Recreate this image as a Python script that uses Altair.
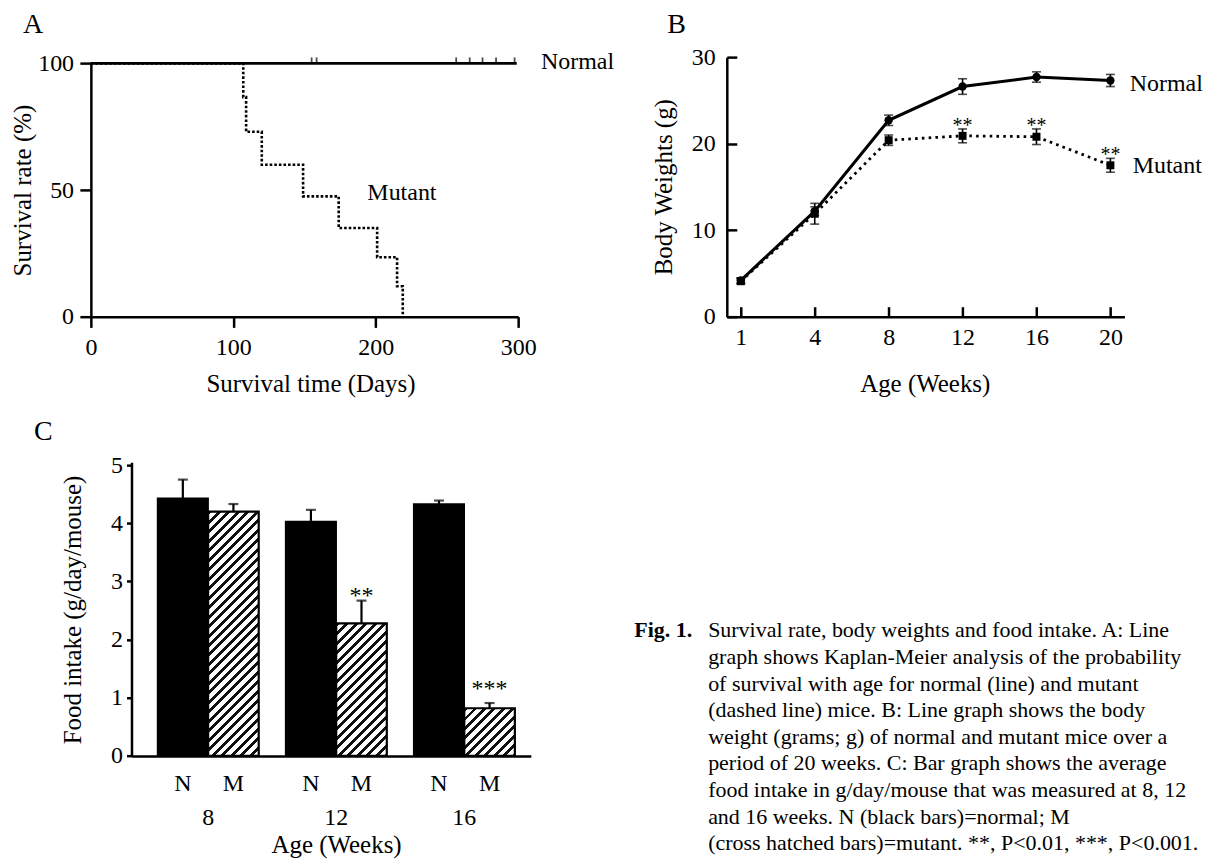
import altair as alt
import pandas as pd

FONT = "Liberation Serif"

# ---------------- data ----------------
# Panel A: Kaplan-Meier survival (days, %)
a_normal_days = [0, 299]
a_normal_surv = [100, 100]
a_censor_days = [155, 158.5, 256.5, 266, 275, 284.5, 297.5]
a_mutant_days = [0, 107, 109, 120, 149, 174, 201, 215, 219]
a_mutant_surv = [100, 86.7, 73, 60, 47.5, 35, 23.5, 12, 0]
a_x_ticks = [0, 100, 200, 300]
a_y_ticks = [0, 50, 100]

# Panel B: body weights (g)
b_weeks = ["1", "4", "8", "12", "16", "20"]
b_normal = [4.2, 12.2, 22.7, 26.6, 27.7, 27.3]
b_normal_err = [0.3, 0.5, 0.6, 0.9, 0.6, 0.7]
b_mutant = [4.1, 11.9, 20.4, 20.9, 20.8, 17.5]
b_mutant_err = [0.3, 1.2, 0.6, 0.8, 0.9, 0.8]
b_mutant_sig = ["", "", "", "**", "**", "**"]
b_y_ticks = [0, 10, 20, 30]

# Panel C: food intake (g/day/mouse)
c_weeks = ["8", "12", "16"]
c_groups = ["N", "M"]
c_normal = [4.43, 4.03, 4.33]
c_normal_err = [0.32, 0.20, 0.06]
c_mutant = [4.20, 2.28, 0.82]
c_mutant_err = [0.13, 0.39, 0.09]
c_mutant_sig = ["", "**", "***"]
c_y_ticks = [0, 1, 2, 3, 4, 5]

caption_lines = [
    "Survival rate, body weights and food intake. A: Line",
    "graph shows Kaplan-Meier analysis of the probability",
    "of survival with age for normal (line) and mutant",
    "(dashed line) mice. B: Line graph shows the body",
    "weight (grams; g) of normal and mutant mice over a",
    "period of 20 weeks. C: Bar graph shows the average",
    "food intake in g/day/mouse that was measured at 8, 12",
    "and 16 weeks. N (black bars)=normal; M",
    "(cross hatched bars)=mutant. **, P<0.01, ***, P<0.001.",
]

# ---------------- layout sizes ----------------
A_W, A_H = 428, 260
B_W, B_H = 398.3, 260
C_LEFT = 40.7
C_W, C_H = 440.7, 294.3
C_YMAX = 5.05
CAP_W = 460
COL_SPACING = 196.0
ROW_SPACING = 145.7
CAP_SHIFT = -92.7   # caption starts left of its cell (second column)


def axis(**kw):
    base = dict(grid=False, domainColor="black", domainWidth=2.5, tickColor="black",
                tickWidth=2.5, labelFont=FONT, labelFontSize=24, labelColor="black",
                titleFont=FONT, titleFontSize=25, titleFontWeight="normal",
                titleColor="black", labelAngle=0, labelFlush=False, labelOverlap=False)
    base.update(kw)
    return alt.Axis(**base)


def txt(**kw):
    base = dict(font=FONT, color="black", fontSize=24)
    base.update(kw)
    return base


# ---------------- Panel A ----------------
df_an = pd.DataFrame({"day": a_normal_days, "surv": a_normal_surv})
df_am = pd.DataFrame({"day": a_mutant_days, "surv": a_mutant_surv})
df_ac = pd.DataFrame({"day": a_censor_days, "surv": [a_normal_surv[0]] * len(a_censor_days)})

ax_x = alt.X("day:Q", scale=alt.Scale(domain=[0, 300], range=[0, A_W], nice=False, zero=False),
             axis=axis(values=a_x_ticks, tickSize=10.7, labelPadding=27.6, labelBaseline="alphabetic",
                       title="Survival time (Days)", titleX=220, titleY=75,
                       titleBaseline="alphabetic"))
ax_y = alt.Y("surv:Q", scale=alt.Scale(domain=[0, 100], range=[A_H, 6.3], nice=False),
             axis=axis(values=a_y_ticks, tickSize=11, labelPadding=6.3,
                       title="Survival rate (%)", titleX=-60, titleY=133.2,
                       titleBaseline="alphabetic"))

a_mut = alt.Chart(df_am).mark_line(interpolate="step-after", color="black", strokeWidth=2.6,
                                   strokeDash=[2.6, 2]).encode(x=ax_x, y=ax_y)
a_norm = alt.Chart(df_an).mark_line(color="black", strokeWidth=2.8).encode(x=ax_x, y=ax_y)
a_cens = alt.Chart(df_ac).mark_tick(orient="vertical", size=6, thickness=1.8, color="black",
                                    yOffset=-3).encode(x=ax_x, y=ax_y)
a_lab_n = alt.Chart(df_an.tail(1).assign(t="Normal")).mark_text(
    **txt(align="left", baseline="alphabetic", dx=24.3, dy=5.3)).encode(x=ax_x, y=ax_y, text="t")
a_lab_m = alt.Chart(df_am.iloc[[4]].assign(t="Mutant")).mark_text(
    **txt(align="left", baseline="alphabetic", dx=64.4, dy=3.8)).encode(x=ax_x, y=ax_y, text="t")
a_letter = alt.Chart(pd.DataFrame({"t": ["A"]})).mark_text(
    **txt(align="left", baseline="alphabetic", fontSize=28)).encode(
    x=alt.value(-68), y=alt.value(-23.7), text="t")

panelA = alt.layer(a_mut, a_norm, a_cens, a_lab_n, a_lab_m, a_letter).properties(width=A_W, height=A_H)

# ---------------- Panel B ----------------
df_b = pd.DataFrame({
    "week": b_weeks * 2,
    "grp": ["Normal"] * len(b_weeks) + ["Mutant"] * len(b_weeks),
    "value": b_normal + b_mutant,
    "err": b_normal_err + b_mutant_err,
    "sig": [""] * len(b_weeks) + b_mutant_sig,
})
base_b = alt.Chart(df_b).transform_calculate(lo="datum.value - datum.err", hi="datum.value + datum.err")

b_yaxis = axis(values=b_y_ticks, tickSize=alt.ExprRef(expr="-10"), labelPadding=21.7,
               title="Body Weights (g)", titleX=-55.7, titleY=129.8, titleBaseline="alphabetic")
b_yscale = alt.Scale(domain=[0, 30], nice=False)
bx = alt.X("week:O", sort=b_weeks, scale=alt.Scale(type="point", padding=0.19),
           axis=axis(tickSize=alt.ExprRef(expr="-10"), labelPadding=38, labelBaseline="alphabetic",
                     title="Age (Weeks)", titleX=198.3, titleY=75, titleBaseline="alphabetic"))
by = alt.Y("value:Q", scale=b_yscale, axis=b_yaxis)
by_lo = alt.Y("lo:Q", scale=b_yscale, axis=b_yaxis)
by_hi = alt.Y("hi:Q", scale=b_yscale, axis=b_yaxis)

isN = "datum.grp == 'Normal'"
isM = "datum.grp == 'Mutant'"
b_mut_line = base_b.transform_filter(isM).mark_line(color="black", strokeWidth=2.8,
                                                    strokeDash=[2.6, 4.2]).encode(x=bx, y=by)
b_norm_line = base_b.transform_filter(isN).mark_line(color="black", strokeWidth=3).encode(x=bx, y=by)
b_err = base_b.mark_rule(color="black", strokeWidth=1.6).encode(x=bx, y=by_lo, y2="hi:Q")
b_cap_lo = base_b.mark_tick(orient="horizontal", size=9, thickness=1.6, color="black").encode(x=bx, y=by_lo)
b_cap_hi = base_b.mark_tick(orient="horizontal", size=9, thickness=1.6, color="black").encode(x=bx, y=by_hi)
b_pts_n = base_b.transform_filter(isN).mark_point(shape="circle", filled=True, size=70, color="black",
                                                  opacity=1).encode(x=bx, y=by)
b_pts_m = base_b.transform_filter(isM).mark_point(shape="square", filled=True, size=64, color="black",
                                                  opacity=1).encode(x=bx, y=by)
b_sig = base_b.transform_filter("datum.sig != ''").mark_text(
    **txt(baseline="alphabetic", fontSize=20, dy=3)).encode(x=bx, y=by_hi, text="sig:N")
last_w = b_weeks[-1]
b_lab_n = base_b.transform_filter(f"{isN} && datum.week == '{last_w}'").mark_text(
    **txt(align="left", baseline="alphabetic", dx=19.3, dy=10.6)).encode(x=bx, y=by, text="grp:N")
b_lab_m = base_b.transform_filter(f"{isM} && datum.week == '{last_w}'").mark_text(
    **txt(align="left", baseline="alphabetic", dx=22.3, dy=7.4)).encode(x=bx, y=by, text="grp:N")
b_letter = alt.Chart(pd.DataFrame({"t": ["B"]})).mark_text(
    **txt(align="left", baseline="alphabetic", fontSize=28)).encode(
    x=alt.value(-59.7), y=alt.value(-23.7), text="t")

panelB = alt.layer(b_mut_line, b_norm_line, b_err, b_cap_lo, b_cap_hi, b_pts_n, b_pts_m,
                   b_sig, b_lab_n, b_lab_m, b_letter).properties(width=B_W, height=B_H)

# ---------------- Panel C ----------------
df_c = pd.DataFrame({
    "week": c_weeks * 2,
    "grp": ["N"] * len(c_weeks) + ["M"] * len(c_weeks),
    "value": c_normal + c_mutant,
    "err": c_normal_err + c_mutant_err,
    "sig": [""] * len(c_weeks) + c_mutant_sig,
})
base_c = alt.Chart(df_c).transform_calculate(hi="datum.value + datum.err")

C_PAD_IN, C_PAD_OUT = 0.21, 0.164
c_step = (C_W - C_LEFT) / (len(c_weeks) - C_PAD_IN + 2 * C_PAD_OUT)
C_BAR_W = c_step * (1 - C_PAD_IN) / len(c_groups)
C_PX = C_H / C_YMAX

cx = alt.X("week:N", sort=c_weeks,
           scale=alt.Scale(range=[C_LEFT, C_W], paddingInner=C_PAD_IN, paddingOuter=C_PAD_OUT, align=0.62),
           axis=axis(ticks=False, tickSize=0, labelPadding=68.3, labelBaseline="alphabetic",
                     title="Age (Weeks)", titleX=245.6, titleY=96.3, titleBaseline="alphabetic"))
cxo = alt.XOffset("grp:N", sort=c_groups, scale=alt.Scale(paddingInner=0, paddingOuter=0))
c_yscale = alt.Scale(domain=[0, C_YMAX], nice=False)
c_yaxis = axis(values=c_y_ticks, offset=-C_LEFT, tickSize=5, labelPadding=4,
               title="Food intake (g/day/mouse)", titleX=-51.4, titleY=147.6, titleBaseline="alphabetic")
cy = alt.Y("value:Q", scale=c_yscale, axis=c_yaxis)
cy_hi = alt.Y("hi:Q", scale=c_yscale, axis=c_yaxis)


def hatch(value, period=9.5, dark=0.42):
    w = C_BAR_W
    h = value * C_PX
    L = w + h
    r = h / w
    a = (1 + r) / (1 + r * r)
    stops = []
    k = 0
    while k * period < L:
        t0 = k * period / L
        t1 = min((k + dark) * period / L, 1)
        stops += [{"offset": t0, "color": "white"}, {"offset": t0, "color": "#111111"},
                  {"offset": t1, "color": "#111111"}, {"offset": t1, "color": "white"}]
        k += 1
    stops.append({"offset": 1, "color": "white"})
    return {"gradient": "linear", "x1": 0, "y1": 0, "x2": a, "y2": a * r, "stops": stops}


c_bars_n = base_c.transform_filter("datum.grp == 'N'").mark_bar(
    color="black", stroke="black", strokeWidth=1.5).encode(x=cx, xOffset=cxo, y=cy)
c_bars_m = [
    base_c.transform_filter(f"datum.grp == 'M' && datum.week == '{wk}'").mark_bar(
        fill=hatch(c_mutant[i]), stroke="black", strokeWidth=2.2).encode(x=cx, xOffset=cxo, y=cy)
    for i, wk in enumerate(c_weeks)
]
c_err = base_c.mark_rule(color="black", strokeWidth=2.2).encode(x=cx, xOffset=cxo, y=cy, y2="hi:Q")
c_cap = base_c.mark_tick(orient="horizontal", size=10, thickness=2.2, color="black").encode(
    x=cx, xOffset=cxo, y=cy_hi)
c_sig2 = base_c.transform_filter("datum.sig == '**'").mark_text(
    **txt(baseline="alphabetic", dy=2.5)).encode(x=cx, xOffset=cxo, y=cy_hi, text="sig:N")
c_sig3 = base_c.transform_filter("datum.sig == '***'").mark_text(
    **txt(baseline="alphabetic", dy=-7.3)).encode(x=cx, xOffset=cxo, y=cy_hi, text="sig:N")
c_grp_lab = base_c.mark_text(**txt(baseline="alphabetic")).encode(
    x=cx, xOffset=cxo, y=alt.value(329.3), text="grp:N")
c_letter = alt.Chart(pd.DataFrame({"t": ["C"]})).mark_text(
    **txt(align="left", baseline="alphabetic", fontSize=28)).encode(
    x=alt.value(-57), y=alt.value(-22.4), text="t")

panelC = alt.layer(c_bars_n, *c_bars_m, c_err, c_cap, c_sig2, c_sig3, c_grp_lab, c_letter).properties(
    width=C_W, height=C_H)

# ---------------- Caption ----------------
df_cap = pd.DataFrame({"i": list(range(len(caption_lines))), "t": caption_lines})
cap_y = alt.Y("i:O", scale=alt.Scale(type="point", range=[175.6, 388.6], padding=0), axis=None)
cap_body = alt.Chart(df_cap).mark_text(**txt(align="left", baseline="alphabetic", fontSize=22)).encode(
    x=alt.value(CAP_SHIFT + 74), y=cap_y, text="t")
cap_fig = alt.Chart(pd.DataFrame({"i": [0], "t": ["Fig. 1."]})).mark_text(
    **txt(align="left", baseline="alphabetic", fontSize=22, fontWeight="bold")).encode(
    x=alt.value(CAP_SHIFT), y=cap_y, text="t")
caption = alt.layer(cap_fig, cap_body).properties(width=CAP_W, height=C_H)

# ---------------- assemble ----------------
chart = alt.concat(
    panelA, panelB, panelC, caption, columns=2, bounds="flush", align="none",
    spacing={"row": ROW_SPACING, "column": COL_SPACING},
).properties(
    padding={"left": 2, "top": 2.5, "right": 0, "bottom": 0}
).configure(font=FONT, background="white").configure_view(stroke="transparent", strokeWidth=0)

chart.save("out.html", embed_options={"renderer": "svg", "actions": False})
